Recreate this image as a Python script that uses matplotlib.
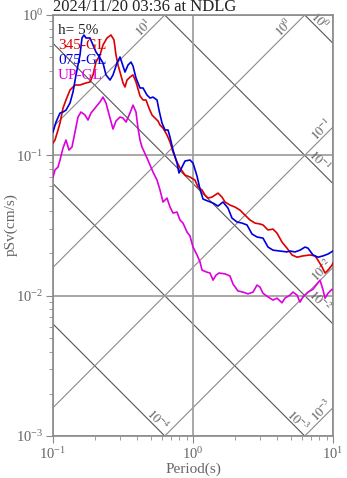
import numpy as np
import matplotlib
matplotlib.use("Agg")
import matplotlib.pyplot as plt

plt.rcParams['font.family'] = ['Liberation Serif', 'DejaVu Serif']
plt.rcParams['mathtext.fontset'] = 'stix'

# --- spektrum verileri (okunan degerler) ---
ns_T = [0.1, 0.1033, 0.1086, 0.1122, 0.1179, 0.1238, 0.1323, 0.1436, 0.1559, 0.1721,
        0.1838, 0.1931, 0.2028, 0.2166, 0.2276, 0.2431, 0.2596, 0.2727, 0.2818, 0.2913,
        0.3011, 0.3162, 0.3268, 0.3378, 0.3548, 0.3728, 0.3916, 0.4182, 0.4394, 0.4616,
        0.4850, 0.5096, 0.5353, 0.5623, 0.5812, 0.6105, 0.6521, 0.6851, 0.7197, 0.7687,
        0.8076, 0.8769, 0.9519, 1.033, 1.086, 1.160, 1.218, 1.280, 1.367, 1.436,
        1.509, 1.611, 1.693, 1.838, 1.995, 2.166, 2.352, 2.554, 2.773, 3.011,
        3.162, 3.434, 3.728, 3.981, 4.322, 4.693, 5.096, 5.532, 6.105, 6.851,
        7.438, 7.814, 8.347, 8.769, 9.211, 9.837, 10.0]
ns_sv = [0.1224, 0.1285, 0.1515, 0.1699, 0.217, 0.248, 0.292, 0.317, 0.317, 0.328,
         0.333, 0.374, 0.462, 0.519, 0.611, 0.686, 0.720, 0.663, 0.519, 0.440,
         0.392, 0.328, 0.307, 0.344, 0.361, 0.374, 0.333, 0.265, 0.248, 0.248,
         0.217, 0.1937, 0.1844, 0.1756, 0.1644, 0.1565, 0.1395, 0.1244, 0.1056, 0.0896,
         0.0812, 0.0724, 0.070, 0.0666, 0.0594, 0.0566, 0.0521, 0.0496, 0.0504, 0.0521,
         0.0538, 0.0504, 0.0465, 0.0442, 0.0428, 0.0407, 0.0375, 0.0346, 0.0329, 0.0324,
         0.0319, 0.0294, 0.0298, 0.0279, 0.0241, 0.0218, 0.0195, 0.0188, 0.0192, 0.0195,
         0.0192, 0.0179, 0.0160, 0.0145, 0.0152, 0.0165, 0.0171]

ew_T = [0.1, 0.1051, 0.1122, 0.1179, 0.1238, 0.1323, 0.1390, 0.1460, 0.1559, 0.1611,
        0.1665, 0.1721, 0.1838, 0.1931, 0.2028, 0.2166, 0.2276, 0.2391, 0.2554, 0.2683,
        0.2865, 0.3011, 0.3162, 0.3268, 0.3434, 0.3607, 0.3728, 0.3916, 0.4182, 0.4394,
        0.4693, 0.4931, 0.5180, 0.5532, 0.5717, 0.6006, 0.6310, 0.6629, 0.6851, 0.7197,
        0.7687, 0.7943, 0.8347, 0.8769, 0.9519, 1.0, 1.068, 1.122, 1.179, 1.280,
        1.390, 1.509, 1.638, 1.778, 1.899, 2.062, 2.239, 2.431, 2.639, 2.865,
        3.162, 3.434, 3.728, 4.182, 4.693, 4.931, 5.353, 5.812, 6.310, 6.629,
        7.197, 7.814, 8.485, 9.211, 10.0]
ew_sv = [0.1466, 0.1727, 0.2002, 0.2035, 0.210, 0.236, 0.283, 0.374, 0.519, 0.686,
         0.720, 0.686, 0.686, 0.611, 0.545, 0.494, 0.455, 0.374, 0.344, 0.374,
         0.455, 0.502, 0.433, 0.392, 0.440, 0.462, 0.433, 0.356, 0.302, 0.302,
         0.269, 0.256, 0.260, 0.248, 0.210, 0.1699, 0.1515, 0.1515, 0.135, 0.1091,
         0.0881, 0.0748, 0.0825, 0.0911, 0.0926, 0.0881, 0.0712, 0.0575, 0.0488, 0.0472,
         0.0457, 0.0435, 0.0465, 0.0421, 0.0357, 0.0335, 0.0329, 0.0319, 0.0275, 0.0262,
         0.0257, 0.0222, 0.0211, 0.0208, 0.0205, 0.0208, 0.0205, 0.0211, 0.0222, 0.0218,
         0.0195, 0.0188, 0.0192, 0.0198, 0.0208]

ud_T = [0.1, 0.1033, 0.1086, 0.1122, 0.1179, 0.1238, 0.1301, 0.1367, 0.1436, 0.1509,
        0.1585, 0.1693, 0.1778, 0.1868, 0.1995, 0.2166, 0.2276, 0.2391, 0.2554, 0.2683,
        0.2818, 0.3011, 0.3162, 0.3323, 0.3548, 0.3728, 0.3916, 0.4047, 0.4182, 0.4322,
        0.4693, 0.4931, 0.5180, 0.5532, 0.5812, 0.6105, 0.6521, 0.6851, 0.7197, 0.7687,
        0.8076, 0.8485, 0.9064, 0.9519, 1.0, 1.068, 1.122, 1.160, 1.259, 1.323,
        1.390, 1.460, 1.534, 1.693, 1.838, 1.931, 2.096, 2.276, 2.471, 2.683,
        2.865, 3.011, 3.162, 3.434, 3.728, 3.981, 4.322, 4.541, 4.931, 5.180,
        5.532, 5.812, 6.105, 6.629, 7.197, 7.687, 8.076, 8.485, 8.769, 9.211,
        9.837, 10.0]
ud_sv = [0.070, 0.0786, 0.0825, 0.0926, 0.1127, 0.1285, 0.1091, 0.1146, 0.1466, 0.1875,
         0.2035, 0.1937, 0.1785, 0.2002, 0.217, 0.240, 0.260, 0.236, 0.1844, 0.1539,
         0.1756, 0.1875, 0.1844, 0.1727, 0.2002, 0.228, 0.2035, 0.1565, 0.1285, 0.1146,
         0.0957, 0.0853, 0.0760, 0.0666, 0.0566, 0.0465, 0.0496, 0.0428, 0.0388, 0.0394,
         0.0346, 0.0329, 0.0284, 0.0266, 0.0222, 0.0195, 0.0174, 0.0152, 0.0147, 0.0145,
         0.0129, 0.0140, 0.0145, 0.0143, 0.0138, 0.0121, 0.0108, 0.0106, 0.0103, 0.0106,
         0.0119, 0.0115, 0.0104, 0.0098, 0.0093, 0.0096, 0.0089, 0.0096, 0.0101, 0.0106,
         0.0101, 0.0090, 0.0098, 0.0106, 0.0111, 0.0121, 0.0129, 0.0110, 0.0096, 0.0104,
         0.0111, 0.0110]

series = [("345-GL", ns_T, ns_sv, "#dd0000"),
          ("075-GL", ew_T, ew_sv, "#0000dd"),
          ("UP-GL", ud_T, ud_sv, "#dd00dd")]

TITLE = "2024/11/20 03:36 at NDLG"
DAMP = "h= 5%"
EXP = range(-6, 4)          # diyagonal cizgiler: A ve D = 10^k
T_LIM = (0.1, 10.0)
SV_LIM = (1e-3, 1.0)

fig = plt.figure(figsize=(3.47, 4.78), dpi=100)
ax = fig.add_axes([53 / 347, 1 - 436 / 478, 280 / 347, 421 / 478])
ax.set_xscale("log"); ax.set_yscale("log")
ax.set_xlim(*T_LIM); ax.set_ylim(*SV_LIM)

lt0, lt1 = np.log10(T_LIM)
ls0, ls1 = np.log10(SV_LIM)
tw = 2 * np.pi

for k in EXP:
    # ivme cizgisi (yukselen): Sv = A T / 2pi
    c = k - np.log10(tw)
    a = max(lt0, ls0 - c); b = min(lt1, ls1 - c)
    if b > a:
        ax.plot([10 ** a, 10 ** b], [10 ** (a + c), 10 ** (b + c)], color="#8a8a8a", lw=0.8, zorder=1)
        d = 0.05 if b == lt1 else 0.12
        lx, ly = b - d - 0.03, b + c - d + 0.03
        ax.text(10 ** lx, 10 ** ly, rf"$10^{{{k}}}$", rotation=45, fontsize=9, color="#555555",
                ha="center", va="center", rotation_mode="anchor", zorder=2)
    # deplasman cizgisi (alcalan): Sv = 2pi D / T
    c = k + np.log10(tw)
    a = max(lt0, c - ls1); b = min(lt1, c - ls0)
    if b > a:
        ax.plot([10 ** a, 10 ** b], [10 ** (c - a), 10 ** (c - b)], color="#555555", lw=0.8, zorder=1)
        d = 0.13 if b == lt1 else 0.08
        lx, ly = b - d + 0.03, c - b + d + 0.03
        ax.text(10 ** lx, 10 ** ly, rf"$10^{{{k}}}$", rotation=-45, fontsize=9, color="#555555",
                ha="center", va="center", rotation_mode="anchor", zorder=2)

ax.grid(which="major", color="#9a9a9a", lw=1.2, zorder=0)

for name, T, sv, col in series:
    ax.plot(T, sv, color=col, lw=1.2, zorder=3)

ax.text(0.018, 0.964, DAMP, transform=ax.transAxes, fontsize=11, color="#222222", va="center", zorder=4)
for i, (name, T, sv, col) in enumerate(series):
    ax.text(0.018, 0.928 - 0.036 * i, name, transform=ax.transAxes, fontsize=11, color=col,
            va="center", zorder=4)

for s in ax.spines.values():
    s.set_color("#8a8a8a"); s.set_linewidth(1.2)
ax.tick_params(which="both", direction="out", color="#8a8a8a", labelcolor="#666666", labelsize=10.5)
ax.tick_params(which="major", length=5, pad=2)
ax.tick_params(which="minor", length=3)
ax.set_xlabel("Period(s)", fontsize=11, color="#666666", va="center")
ax.set_ylabel("pSv(cm/s)", fontsize=11, color="#666666", va="center")
ax.xaxis.set_label_coords(0.5, (436 - 469) / 421)
ax.yaxis.set_label_coords((11 - 53) / 280, (436 - 225) / 421)
ax.set_title(TITLE, loc="left", fontsize=12, color="#222222", pad=2)

fig.savefig("out.png", dpi=100)
